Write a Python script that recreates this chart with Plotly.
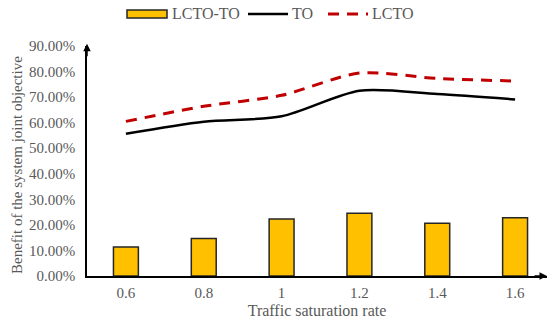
import plotly.graph_objects as go

# Traffic saturation levels and benefit values
categories = ["0.6", "0.8", "1", "1.2", "1.4", "1.6"]
lcto_minus_to = [0.113, 0.147, 0.223, 0.246, 0.206, 0.228]
to_values = [0.557, 0.604, 0.625, 0.725, 0.712, 0.691]
lcto_values = [0.605, 0.664, 0.707, 0.794, 0.773, 0.763]
y_ticks = [0.0, 0.1, 0.2, 0.3, 0.4, 0.5, 0.6, 0.7, 0.8, 0.9]

FONT = "Liberation Serif"
GREY = "#595959"
ORANGE = "#FFC000"
RED = "#C00000"

xs = list(range(len(categories)))

fig = go.Figure()
fig.add_trace(go.Bar(
    x=xs, y=lcto_minus_to, name="LCTO-TO", width=0.32,
    marker=dict(color=ORANGE, line=dict(color="#262626", width=1.5)),
    showlegend=False,
))
fig.add_trace(go.Scatter(
    x=xs, y=to_values, name="TO", mode="lines",
    line=dict(color="black", width=2.5, shape="spline", smoothing=0.8),
    showlegend=False,
))
fig.add_trace(go.Scatter(
    x=xs, y=lcto_values, name="LCTO", mode="lines",
    line=dict(color=RED, width=3, shape="spline", smoothing=0.8, dash="11px,8px"),
    showlegend=False,
))

W, H = 551, 326
L, R, T, B = 87, 4, 46, 50
pw, ph = W - L - R, H - T - B


def px_x(p):
    return (p - L) / pw


def px_y(p):
    return (H - B - p) / ph


# Hand-built legend across the top
legend_y = 14
shapes = [
    dict(type="rect", xref="paper", yref="paper",
         x0=px_x(127), x1=px_x(167), y0=px_y(18), y1=px_y(10),
         fillcolor=ORANGE, line=dict(color="#262626", width=1.5)),
    dict(type="line", xref="paper", yref="paper",
         x0=px_x(248), x1=px_x(288), y0=px_y(legend_y), y1=px_y(legend_y),
         line=dict(color="black", width=2.5)),
    dict(type="line", xref="paper", yref="paper",
         x0=px_x(328), x1=px_x(368), y0=px_y(legend_y), y1=px_y(legend_y),
         line=dict(color=RED, width=3, dash="11px,8px")),
]
legend_font = dict(family=FONT, size=16, color=GREY)
annotations = [
    dict(text="LCTO-TO", xref="paper", yref="paper", x=px_x(170), y=px_y(legend_y),
         xanchor="left", yanchor="middle", showarrow=False, font=legend_font),
    dict(text="TO", xref="paper", yref="paper", x=px_x(290), y=px_y(legend_y),
         xanchor="left", yanchor="middle", showarrow=False, font=legend_font),
    dict(text="LCTO", xref="paper", yref="paper", x=px_x(370), y=px_y(legend_y),
         xanchor="left", yanchor="middle", showarrow=False, font=legend_font),
    # y-axis title
    dict(text="Benefit of the system joint objective", xref="paper", yref="paper",
         x=px_x(17), y=px_y(165), xanchor="center", yanchor="middle", textangle=-90,
         showarrow=False, font=dict(family=FONT, size=15, color=GREY)),
    # axis arrowheads
    dict(xref="paper", yref="paper", x=0, y=1.01, ax=0, ay=14, axref="pixel", ayref="pixel",
         showarrow=True, arrowhead=2, arrowsize=1, arrowwidth=1.5, arrowcolor="black", text=""),
    dict(xref="paper", yref="paper", x=1.0, y=0, ax=-14, ay=0, axref="pixel", ayref="pixel",
         showarrow=True, arrowhead=2, arrowsize=1, arrowwidth=1.5, arrowcolor="black", text=""),
]

fig.update_layout(
    width=W, height=H,
    margin=dict(l=L, r=R, t=T, b=B, pad=0),
    paper_bgcolor="white", plot_bgcolor="white",
    font=dict(family=FONT, color=GREY),
    shapes=shapes,
    annotations=annotations,
)
fig.update_xaxes(
    range=[-0.5, 5.41], tickvals=xs, ticktext=categories,
    showline=True, linecolor="black", linewidth=1.5, showgrid=False, zeroline=False,
    ticks="", ticklabelstandoff=2, tickfont=dict(family=FONT, size=15, color=GREY),
    title=dict(text="Traffic saturation rate", standoff=5,
               font=dict(family=FONT, size=16, color=GREY)),
)
fig.update_yaxes(
    range=[0, 0.9], tickvals=y_ticks, tickformat=".2%",
    showline=True, linecolor="black", linewidth=1.5, showgrid=False, zeroline=False,
    ticks="", ticklabelstandoff=7, tickfont=dict(family=FONT, size=15, color=GREY),
)

fig.write_html("out.html")
